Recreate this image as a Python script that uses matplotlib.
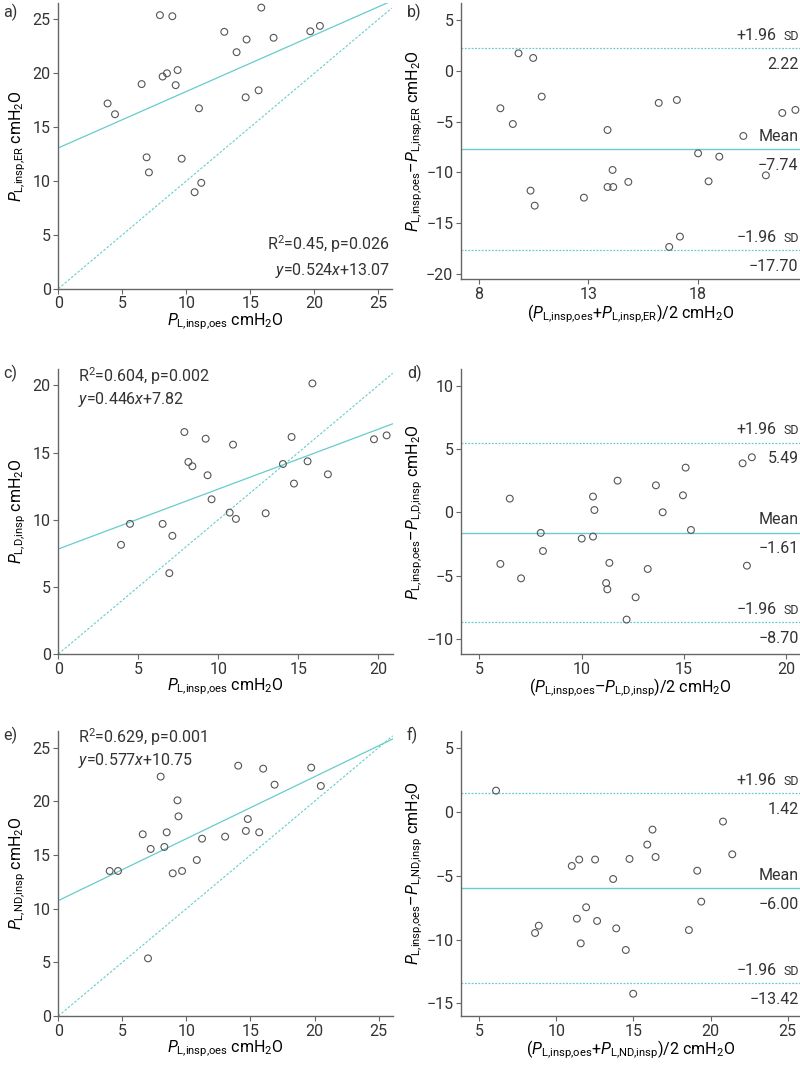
import matplotlib
matplotlib.use('Agg')
import matplotlib.pyplot as plt
import numpy as np

plt.rcParams['font.family'] = ['Roboto', 'DejaVu Sans']
plt.rcParams['mathtext.fontset'] = 'custom'
plt.rcParams['mathtext.rm'] = 'Roboto'
plt.rcParams['mathtext.it'] = 'Roboto:italic'
plt.rcParams['mathtext.bf'] = 'Roboto:bold'
plt.rcParams['font.size'] = 11.5
plt.rcParams['text.color'] = '#333333'

TEAL = '#66cccc'
GREY = '#666666'

# ---- a) ER vs oesophageal
a_oes = [3.85, 4.43, 6.51, 6.90, 7.08, 7.94, 8.15, 8.49, 8.91, 9.17, 9.32, 9.64,
         10.65, 10.99, 11.17, 12.97, 13.93, 14.64, 14.71, 15.65, 15.86, 16.82, 19.69, 20.44]
a_er = [17.2, 16.2, 19.0, 12.2, 10.8, 25.4, 19.7, 20.0, 25.3, 18.9, 20.3, 12.07,
        8.96, 16.75, 9.83, 23.85, 21.96, 17.77, 23.14, 18.42, 26.1, 23.3, 23.9, 24.4]
a_fit = (0.524, 13.07)

# ---- b) Bland-Altman oes vs ER
b_mean = [8.98, 9.55, 9.81, 10.36, 10.48, 10.55, 10.87, 12.80, 13.88, 13.88, 14.11, 14.14,
          14.83, 16.22, 16.70, 17.05, 17.19, 18.02, 18.50, 18.99, 20.09, 21.12, 21.87, 22.47]
b_diff = [-3.68, -5.23, 1.74, -11.8, 1.28, -13.28, -2.53, -12.49, -5.82, -11.44, -9.76, -11.44,
          -10.94, -3.15, -17.35, -2.86, -16.33, -8.12, -10.88, -8.45, -6.41, -10.29, -4.14, -3.84]
b_limits = (2.22, -7.74, -17.70)

# ---- c) D vs oesophageal
c_oes = [3.92, 4.48, 6.52, 6.94, 7.13, 7.88, 8.13, 8.38, 9.21, 9.33, 9.58, 10.71,
         10.92, 11.10, 12.96, 14.04, 14.58, 14.73, 15.58, 15.88, 16.85, 19.73, 20.52]
c_d = [8.13, 9.69, 9.69, 6.02, 8.80, 16.53, 14.30, 13.98, 16.03, 13.31, 11.52, 10.53,
       15.59, 10.06, 10.48, 14.15, 16.16, 12.69, 14.35, 20.15, 13.38, 15.99, 16.28]
c_fit = (0.446, 7.82)

# ---- d) Bland-Altman oes vs D
d_mean = [6.04, 6.50, 7.05, 8.01, 8.12, 10.01, 10.56, 10.56, 10.63, 11.20, 11.26, 11.36,
          11.76, 12.20, 12.64, 13.23, 13.63, 13.96, 14.95, 15.08, 15.34, 17.86, 18.07, 18.31]
d_diff = [-4.08, 1.08, -5.22, -1.63, -3.06, -2.08, -1.92, 1.24, 0.18, -5.59, -6.09, -4.00,
          2.50, -8.48, -6.72, -4.48, 2.13, 0.00, 1.34, 3.53, -1.40, 3.87, -4.22, 4.35]
d_limits = (5.49, -1.61, -8.70)

# ---- e) ND vs oesophageal
e_oes = [4.01, 4.66, 6.59, 7.00, 7.21, 7.99, 8.28, 8.46, 8.93, 9.30, 9.38, 9.66,
         10.81, 11.22, 13.02, 14.04, 14.64, 14.79, 15.68, 15.99, 16.88, 19.74, 20.49]
e_nd = [13.51, 13.51, 16.93, 5.37, 15.56, 22.30, 15.75, 17.11, 13.29, 20.09, 18.60, 13.51,
        14.53, 16.52, 16.71, 23.32, 17.24, 18.35, 17.11, 23.04, 21.55, 23.14, 21.43]
e_fit = (0.577, 10.75)

# ---- f) Bland-Altman oes vs ND
f_mean = [6.10, 8.63, 8.87, 11.01, 11.34, 11.49, 11.59, 11.94, 12.52, 12.65, 13.69, 13.89,
          14.51, 14.75, 14.99, 15.90, 16.24, 16.44, 18.60, 19.14, 19.40, 20.81, 21.41]
f_diff = [1.64, -9.49, -8.92, -4.25, -8.37, -3.75, -10.30, -7.48, -3.75, -8.55, -5.27, -9.13,
          -10.82, -3.70, -14.24, -2.58, -1.41, -3.55, -9.26, -4.62, -7.04, -0.78, -3.34]
f_limits = (1.42, -6.00, -13.42)

panel_labels = ['a)', 'b)', 'c)', 'd)', 'e)', 'f)']

W, H = 800, 1069
fig = plt.figure(figsize=(W / 100, H / 100), dpi=100)


def sub(s):
    # P with an upright subscript, commas without math spacing
    return r'$P_{\mathrm{' + s.replace(',', '{,}') + '}}$'


def px_axes(left, top, right, bottom):
    return fig.add_axes([left / W, 1 - bottom / H, (right - left) / W, (bottom - top) / H])


def style(ax):
    for s in ['top', 'right']:
        ax.spines[s].set_visible(False)
    for s in ['left', 'bottom']:
        ax.spines[s].set_color(GREY)
        ax.spines[s].set_linewidth(1.0)
    ax.tick_params(direction='out', length=3.5, width=0.8, color=GREY,
                   labelcolor='#333333', labelsize=11.5, pad=2)


def scatter(ax, x, y):
    ax.scatter(x, y, s=24, facecolors='none', edgecolors='#555555', linewidths=0.8, zorder=3)


def corr_panel(ax, x, y, fit, xlim, ylim, ticks, ylabel, text, text_pos):
    style(ax)
    xs = np.array(xlim)
    ax.plot(xs, xs, ls=(0, (2.2, 1.6)), lw=0.8, color=TEAL, zorder=2)
    ax.plot(xs, fit[0] * xs + fit[1], lw=0.9, color=TEAL, zorder=2)
    scatter(ax, x, y)
    ax.set_xlim(*xlim)
    ax.set_ylim(*ylim)
    ax.set_xticks(ticks)
    ax.set_yticks(ticks)
    ax.set_xlabel(sub('L,insp,oes') + ' cmH$_2$O', labelpad=0)
    ax.set_ylabel(ylabel, labelpad=3)
    ax.text(*text_pos[0], text, transform=ax.transAxes, ha=text_pos[1], va=text_pos[2],
            linespacing=text_pos[3])


def ba_panel(ax, x, y, limits, xlim, ylim, xticks, yticks, xlabel, ylabel):
    style(ax)
    up, mean, lo = limits
    ax.axhline(up, ls=(0, (1.5, 1.2)), lw=0.9, color=TEAL, zorder=2)
    ax.axhline(mean, lw=1.0, color=TEAL, zorder=2)
    ax.axhline(lo, ls=(0, (1.5, 1.2)), lw=0.9, color=TEAL, zorder=2)
    scatter(ax, x, y)
    ax.set_xlim(*xlim)
    ax.set_ylim(*ylim)
    ax.set_xticks(xticks)
    ax.set_yticks(yticks)
    ax.set_xlabel(xlabel, labelpad=0)
    ax.set_ylabel(ylabel, labelpad=1)
    tr = ('axes fraction', 'data')
    for val, top in [(up, '+1.96'), (mean, 'Mean'), (lo, '\u22121.96')]:
        if top == 'Mean':
            ax.annotate('Mean', (1, val), xycoords=tr, xytext=(-1, 4),
                        textcoords='offset points', ha='right', va='bottom')
        else:
            ax.annotate('SD', (1, val), xycoords=tr, xytext=(-1, 4),
                        textcoords='offset points', ha='right', va='bottom', fontsize=9)
            ax.annotate(top, (1, val), xycoords=tr, xytext=(-17, 4),
                        textcoords='offset points', ha='right', va='bottom')
        ax.annotate(f'{val:.2f}'.replace('-', '\u2212'), (1, val), xycoords=tr, xytext=(-1, -6),
                    textcoords='offset points', ha='right', va='top')


def diff_label(s):
    return sub('L,insp,oes') + '\u2013' + sub(s) + ' cmH$_2$O'


# a)
ax = px_axes(58.3, 3.3, 391.7, 288.7)
corr_panel(ax, a_oes, a_er, a_fit, (0, 26.05), (0, 26.5), [0, 5, 10, 15, 20, 25],
           sub('L,insp,ER') + ' cmH$_2$O',
           'R$^2$=0.45, p=0.026\n$y$=0.524$x$+13.07',
           ((0.995, 0.03), 'right', 'bottom', 1.45))

# b)
ax = px_axes(461, 3.3, 800, 279.3)
ba_panel(ax, b_mean, b_diff, b_limits, (7.18, 22.68), (-20.54, 6.67), [8, 13, 18],
         [-20, -15, -10, -5, 0, 5],
         '(' + sub('L,insp,oes') + '+' + sub('L,insp,ER') + ')/2 cmH$_2$O',
         diff_label('L,insp,ER'))

# c)
ax = px_axes(58.3, 369.3, 392.7, 654)
corr_panel(ax, c_oes, c_d, c_fit, (0, 20.9), (0, 21.2), [0, 5, 10, 15, 20],
           sub('L,D,insp') + ' cmH$_2$O',
           'R$^2$=0.604, p=0.002\n$y$=0.446$x$+7.82',
           ((0.058, 1.015), 'left', 'top', 1.2))

# d)
ax = px_axes(461, 369.3, 800, 654)
ba_panel(ax, d_mean, d_diff, d_limits, (4.12, 20.66), (-11.2, 11.3), [5, 10, 15, 20],
         [-10, -5, 0, 5, 10],
         '(' + sub('L,insp,oes') + '\u2013' + sub('L,D,insp') + ')/2 cmH$_2$O',
         diff_label('L,D,insp'))

# e)
ax = px_axes(58.3, 731, 392.7, 1016)
corr_panel(ax, e_oes, e_nd, e_fit, (0, 26.1), (0, 26.55), [0, 5, 10, 15, 20, 25],
           sub('L,ND,insp') + ' cmH$_2$O',
           'R$^2$=0.629, p=0.001\n$y$=0.577$x$+10.75',
           ((0.058, 1.015), 'left', 'top', 1.2))

# f)
ax = px_axes(461, 731, 800, 1016)
ba_panel(ax, f_mean, f_diff, f_limits, (3.83, 25.8), (-15.98, 6.3), [5, 10, 15, 20, 25],
         [-15, -10, -5, 0, 5],
         '(' + sub('L,insp,oes') + '+' + sub('L,ND,insp') + ')/2 cmH$_2$O',
         diff_label('L,ND,insp'))

label_pos = [(3, 4), (407, 4), (3, 365), (407, 365), (3, 727), (407, 727)]
for lab, (x, y) in zip(panel_labels, label_pos):
    fig.text(x / W, 1 - y / H, lab, ha='left', va='top', fontsize=11.5)

fig.savefig('out.png', dpi=100)
